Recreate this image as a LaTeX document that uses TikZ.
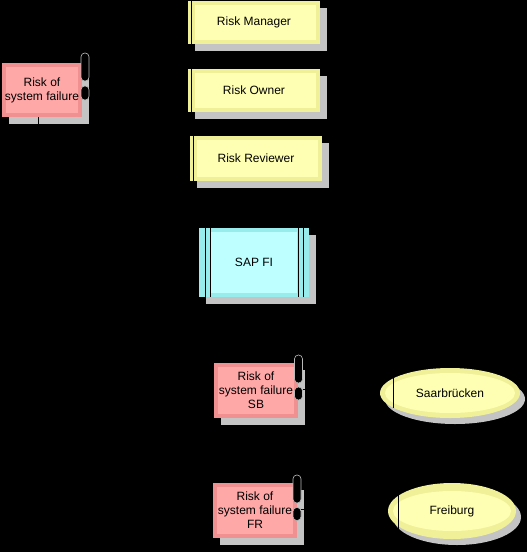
\documentclass[tikz,border=0pt]{standalone}
\usepackage{fontspec}
\setmainfont{Liberation Sans}
\usetikzlibrary{shapes.geometric,shadows}
\definecolor{redout}{HTML}{F09090}
\definecolor{redin}{HTML}{FFA8A8}
\definecolor{yelout}{HTML}{F0F098}
\definecolor{yelin}{HTML}{FFFFB4}
\definecolor{cyaout}{HTML}{98ECEC}
\definecolor{cyain}{HTML}{BEFFFF}
\definecolor{shadowc}{HTML}{C4C4C4}
\tikzset{
  lbl/.style={font=\fontsize{12}{14}\selectfont, text=black, align=center, inner sep=0pt},
  shad/.style={general shadow={fill=shadowc, shadow xshift=7pt, shadow yshift=-7pt}},
  inset/.style={path picture={\fill[#1] ([xshift=4pt,yshift=-4pt]path picture bounding box.north west) rectangle ([xshift=-4pt,yshift=4pt]path picture bounding box.south east);}},
  riskbox/.style={rectangle, lbl, shad, fill=redout, inset=redin},
  rolebox/.style={rectangle, lbl, shad, fill=yelout,
    path picture={\fill[yelin] ([xshift=7pt,yshift=-4pt]path picture bounding box.north west) rectangle ([xshift=-4pt,yshift=4pt]path picture bounding box.south east);
      \draw[black, line width=1pt] ([xshift=3.5pt]path picture bounding box.north west) -- ([xshift=3.5pt]path picture bounding box.south west);}},
  sysbox/.style={rectangle, lbl, shad, fill=cyaout,
    path picture={\fill[cyain] ([xshift=12pt,yshift=-4pt]path picture bounding box.north west) rectangle ([xshift=-12pt,yshift=4pt]path picture bounding box.south east);
      \draw[black, line width=0.9pt] ([xshift=6pt]path picture bounding box.north west) -- ([xshift=6pt]path picture bounding box.south west);
      \draw[black, line width=0.9pt] ([xshift=11pt]path picture bounding box.north west) -- ([xshift=11pt]path picture bounding box.south west);
      \draw[black, line width=0.9pt] ([xshift=-6pt]path picture bounding box.north east) -- ([xshift=-6pt]path picture bounding box.south east);
      \draw[black, line width=0.9pt] ([xshift=-11pt]path picture bounding box.north east) -- ([xshift=-11pt]path picture bounding box.south east);}},
  locell/.style={ellipse, lbl, general shadow={fill=shadowc, shadow xshift=5pt, shadow yshift=-6pt}, fill=yelout, inner sep=0pt,
    path picture={\fill[yelin] (path picture bounding box.center) ellipse [x radius=#1-5pt, y radius=20pt];}},
  pill/.style={rectangle, fill=black, draw=gray!55, line width=0.6pt, rounded corners=3.8pt, minimum width=8pt, inner sep=0pt},
  conn/.style={draw=black, line width=1pt}
}
\begin{document}
\begin{tikzpicture}[x=1pt,y=-1pt]
\fill[black] (0,0) rectangle (527,552);
\useasboundingbox (0,0) rectangle (527,552);

% roles
\node[rolebox, minimum width=132pt, minimum height=43pt] (rm) at (254,22.5) {Risk Manager};
\node[rolebox, minimum width=132pt, minimum height=43pt] (ro) at (254,90.5) {Risk Owner};
\node[rolebox, minimum width=132pt, minimum height=45pt] (rr) at (256,158.5) {Risk Reviewer};

% system
\node[sysbox, minimum width=110pt, minimum height=69pt] (sap) at (254,262.5) {SAP FI};

% risks
\node[riskbox, minimum width=80pt, minimum height=54pt] (rf) at (42,90) {Risk of\\system failure};
\node[pill, minimum height=28pt] (rfp1) at (85,67) {};
\node[pill, minimum height=14pt] (rfp2) at (85,93) {};

\node[riskbox, minimum width=84pt, minimum height=55pt] (rsb) at (256,390.5) {Risk of\\system failure\\SB};
\node[pill, minimum height=28pt] (rsbp1) at (298.5,369) {};
\node[pill, minimum height=13pt] (rsbp2) at (298.5,393.5) {};

\node[riskbox, minimum width=84pt, minimum height=55pt] (rfr) at (255,510.5) {Risk of\\system failure\\FR};
\node[pill, minimum height=28pt] (rfrp1) at (297,489) {};
\node[pill, minimum height=13pt] (rfrp2) at (297,514) {};

% locations
\node[locell=70pt, minimum width=140pt, minimum height=50pt] (saar) at (450,393) {Saarbrücken};
\draw[black, line width=1pt] (393,371) -- (393,408);
\node[locell=64pt, minimum width=128pt, minimum height=56pt] (frei) at (452,511) {Freiburg};
\draw[black, line width=1pt] (398,490) -- (398,537);

% visible connector stubs
\coordinate (rfb) at (38,126);
\draw[conn] (rf.south -| rfb) -- (rfb);
\coordinate (rfe) at (95,88);
\draw[conn] (rfp2.east |- rfe) -- (rfe);
\coordinate (rsbe) at (309,389);
\draw[conn] (rsbp2.east |- rsbe) -- (rsbe);
\coordinate (rfre) at (307,509);
\draw[conn] (rfrp2.east |- rfre) -- (rfre);
\end{tikzpicture}
\end{document}
